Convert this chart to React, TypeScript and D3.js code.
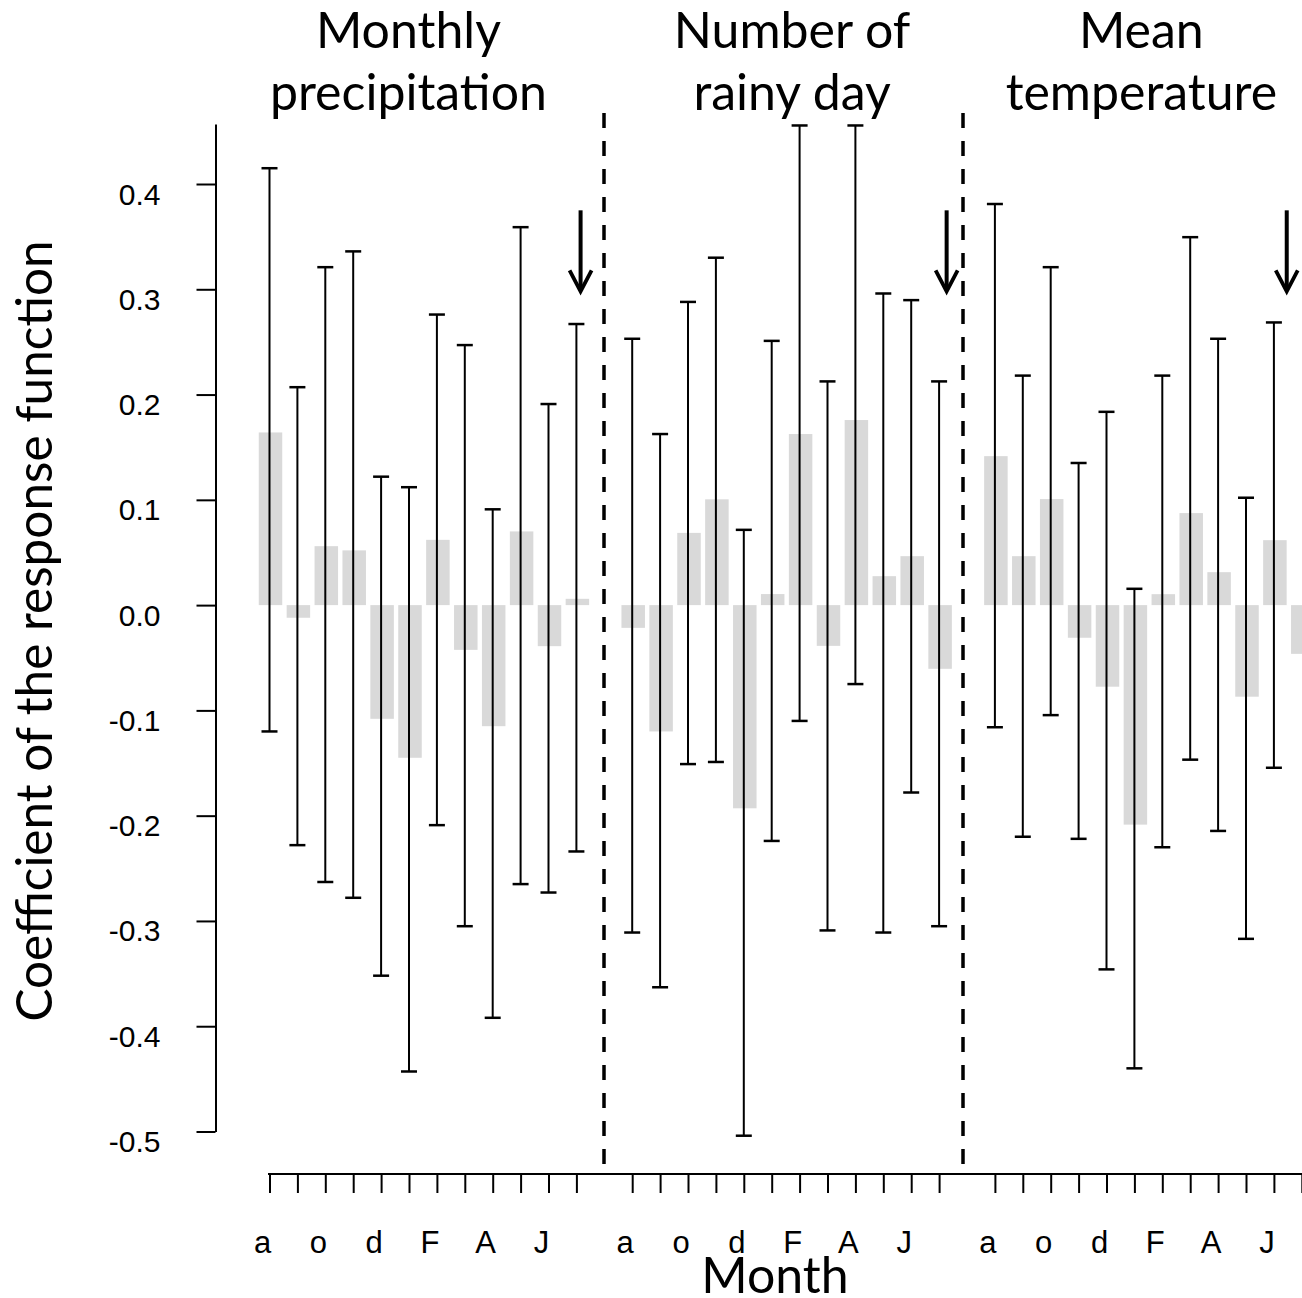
import React, { useEffect, useRef } from 'react';
import * as d3 from 'd3';

// month labels (aug -> jul), only every other one is printed on the axis
const MONTH_LABELS = ["a", "s", "o", "n", "d", "J", "F", "M", "A", "M", "J", "J"];

const PANEL_TITLES = [["Monthly", "precipitation"], ["Number of", "rainy day"], ["Mean", "temperature"]];

// coefficients of the response function
const PRECIP_COEF = [0.164, -0.012, 0.056, 0.052, -0.108, -0.145, 0.062, -0.0425, -0.115, 0.070, -0.039, 0.006];
const PRECIP_UPPER = [0.415, 0.207, 0.321, 0.336, 0.122, 0.112, 0.276, 0.247, 0.091, 0.359, 0.191, 0.267];
const PRECIP_LOWER = [-0.120, -0.228, -0.263, -0.278, -0.352, -0.443, -0.209, -0.305, -0.392, -0.265, -0.273, -0.234];

const RAIN_COEF = [-0.0216, -0.120, 0.0686, 0.1005, -0.193, 0.0105, 0.1625, -0.0387, 0.1758, 0.0275, 0.0465, -0.0605];
const RAIN_UPPER = [0.253, 0.1625, 0.288, 0.330, 0.0715, 0.251, 0.4556, 0.2125, 0.4556, 0.296, 0.2897, 0.2125];
const RAIN_LOWER = [-0.311, -0.363, -0.151, -0.149, -0.504, -0.224, -0.110, -0.309, -0.075, -0.311, -0.178, -0.305];

const TEMP_COEF = [0.1415, 0.0465, 0.1007, -0.031, -0.0775, -0.2085, 0.0104, 0.0874, 0.0313, -0.087, 0.0617, -0.0463];
const TEMP_UPPER = [0.381, 0.218, 0.321, 0.135, 0.1836, 0.0155, 0.218, 0.3495, 0.253, 0.102, 0.2685, null];
const TEMP_LOWER = [-0.116, -0.220, -0.1045, -0.222, -0.346, -0.440, -0.230, -0.1468, -0.2145, -0.317, -0.1545, null];

const Y_TICKS = [-0.5, -0.4, -0.3, -0.2, -0.1, 0.0, 0.1, 0.2, 0.3, 0.4];

// annotation positions, in slot units of the x scale
const SEPARATOR_SLOTS = [12, 24.85];
const ARROW_SLOTS = [11.15, 24.27, 36.46];
const TITLE_SLOTS = [4.98, 18.73, 31.25];
const ARROW_RANGE = [0.375, 0.297];

const SLOTS_PER_PANEL = 13;

const width = 1302;
const height = 1298;

const App = () => {
    const svgRef = useRef(null);

    useEffect(() => {
        const svg = d3.select(svgRef.current);
        svg.selectAll("*").remove();

        const x = d3.scaleLinear().domain([0, 37]).range([269.5, 1301.8]);
        const y = d3.scaleLinear().domain([-0.5, 0.457]).range([1131.5, 124]);
        const barW = 23.5;

        const panels = [
            { coef: PRECIP_COEF, upper: PRECIP_UPPER, lower: PRECIP_LOWER },
            { coef: RAIN_COEF, upper: RAIN_UPPER, lower: RAIN_LOWER },
            { coef: TEMP_COEF, upper: TEMP_UPPER, lower: TEMP_LOWER },
        ];

        const rows = [];
        panels.forEach((p, pi) => {
            p.coef.forEach((c, i) => {
                rows.push({ slot: pi * SLOTS_PER_PANEL + i, coef: c, upper: p.upper[i], lower: p.lower[i] });
            });
        });

        // bars
        svg.append('g')
            .selectAll('rect')
            .data(rows)
            .enter().append('rect')
            .attr('x', d => x(d.slot) - barW / 2 + 1)
            .attr('width', barW)
            .attr('y', d => y(Math.max(0, d.coef)))
            .attr('height', d => Math.abs(y(d.coef) - y(0)))
            .attr('fill', '#d9d9d9');

        // error bars
        const err = svg.append('g').attr('stroke', '#000');
        const withErr = rows.filter(d => d.upper !== null);
        err.selectAll('line.stem')
            .data(withErr)
            .enter().append('line')
            .attr('x1', d => x(d.slot)).attr('x2', d => x(d.slot))
            .attr('y1', d => y(d.upper)).attr('y2', d => y(d.lower))
            .attr('stroke-width', 2);
        ['upper', 'lower'].forEach(k => {
            err.selectAll('line.cap-' + k)
                .data(withErr)
                .enter().append('line')
                .attr('x1', d => x(d.slot) - 8).attr('x2', d => x(d.slot) + 8)
                .attr('y1', d => y(d[k])).attr('y2', d => y(d[k]))
                .attr('stroke-width', 2.5);
        });

        // y axis
        const yAxis = d3.axisLeft(y)
            .tickValues(Y_TICKS)
            .tickSize(19)
            .tickSizeOuter(0)
            .tickFormat(d => d.toFixed(1));
        const yg = svg.append('g')
            .attr('transform', 'translate(215.5,0)')
            .call(yAxis);
        yg.select('.domain').attr('stroke-width', 2);
        yg.selectAll('.tick line').attr('stroke-width', 2);
        yg.selectAll('.tick text')
            .attr('x', -55)
            .attr('dy', null)
            .attr('y', 20)
            .attr('font-family', 'Liberation Sans, Arial, sans-serif')
            .attr('font-size', 30)
            .attr('fill', '#000');

        // x axis
        const xTicks = d3.range(0, 38).filter(s => s % SLOTS_PER_PANEL !== 12);
        const xAxis = d3.axisBottom(x)
            .tickValues(xTicks)
            .tickSize(19)
            .tickSizeOuter(0)
            .tickFormat('');
        const xg = svg.append('g')
            .attr('transform', 'translate(0,1174)')
            .call(xAxis);
        xg.select('.domain').attr('stroke-width', 2).attr('d', 'M' + (x(0) - 1.5) + ',0H' + width);
        xg.selectAll('.tick line').attr('stroke-width', 2);

        const labelRows = [];
        panels.forEach((p, pi) => {
            MONTH_LABELS.forEach((m, i) => {
                if (i % 2 === 0) labelRows.push({ slot: pi * SLOTS_PER_PANEL + i, label: m });
            });
        });
        svg.append('g')
            .selectAll('text')
            .data(labelRows)
            .enter().append('text')
            .attr('x', d => x(d.slot) - 7)
            .attr('y', 1252.5)
            .attr('text-anchor', 'middle')
            .attr('font-family', 'Liberation Sans, Arial, sans-serif')
            .attr('font-size', 31)
            .text(d => d.label);

        // panel separators
        svg.append('g')
            .selectAll('line')
            .data(SEPARATOR_SLOTS)
            .enter().append('line')
            .attr('x1', d => Math.round(x(d))).attr('x2', d => Math.round(x(d)))
            .attr('y1', 113).attr('y2', 1166)
            .attr('stroke', '#000')
            .attr('stroke-width', 3.5)
            .attr('stroke-dasharray', '15,13');

        // arrows
        const arr = svg.append('g')
            .attr('stroke', '#000')
            .attr('fill', 'none')
            .attr('stroke-linecap', 'butt');
        ARROW_SLOTS.forEach(s => {
            const ax = x(s);
            const y0 = y(ARROW_RANGE[0]);
            const y1 = y(ARROW_RANGE[1]);
            arr.append('line')
                .attr('x1', ax).attr('x2', ax)
                .attr('y1', y0).attr('y2', y1 - 2)
                .attr('stroke-width', 4);
            arr.append('path')
                .attr('d', d3.line()([[ax - 11, y1 - 22], [ax, y1 - 1], [ax + 11, y1 - 22]]))
                .attr('stroke-width', 3.8);
        });

        // titles
        const titles = svg.append('g')
            .attr('font-family', 'Lato, sans-serif')
            .attr('font-size', 50)
            .attr('text-anchor', 'middle');
        PANEL_TITLES.forEach((t, i) => {
            t.forEach((line, j) => {
                titles.append('text')
                    .attr('x', x(TITLE_SLOTS[i]))
                    .attr('y', 48 + j * 62)
                    .text(line);
            });
        });

        svg.append('text')
            .attr('x', 775)
            .attr('y', 1293)
            .attr('text-anchor', 'middle')
            .attr('font-family', 'Lato, sans-serif')
            .attr('font-size', 50)
            .text('Month');

        svg.append('text')
            .attr('transform', 'translate(52,631) rotate(-90)')
            .attr('text-anchor', 'middle')
            .attr('font-family', 'Lato, sans-serif')
            .attr('font-size', 49.5)
            .text('Coefficient of the response function');
    }, []);

    return <div style={{ position: 'absolute', left: 0, top: 0 }}>
        <svg width={width} height={height} ref={svgRef} style={{ display: 'block', background: '#fff' }} />
    </div>;
};

export default App;
